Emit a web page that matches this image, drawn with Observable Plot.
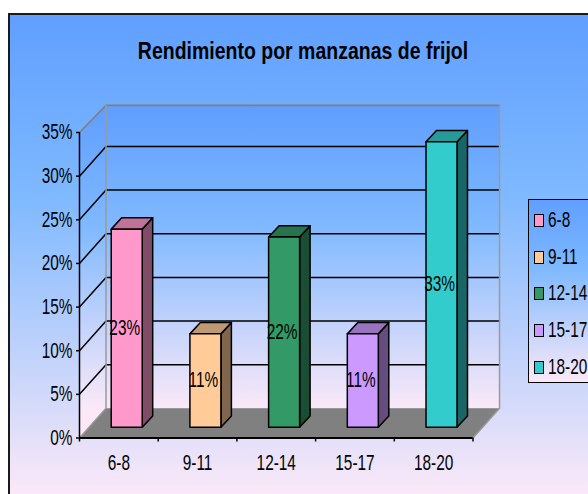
<!DOCTYPE html>
<html>
<head>
<meta charset="utf-8">
<script src="https://cdn.jsdelivr.net/npm/d3@7"></script>
<script src="https://cdn.jsdelivr.net/npm/@observablehq/plot@0.6"></script>
<style>
  html, body { margin: 0; padding: 0; background: #fff; overflow: hidden; width: 588px; height: 494px; }
  body { position: relative; font-family: "Liberation Sans", Arial, sans-serif; color: #000; }
  .panel { position: absolute; left: 8px; top: 13px; width: 600px; height: 482px; box-sizing: border-box;
    border-left: 2px solid #1a1a1a; border-top: 2px solid #1a1a1a;
    background: linear-gradient(#609fff 0%, #7fb9ff 38%, #fbe9f8 100%); }
  #title { position: absolute; left: 0; width: 606px; top: 38px; text-align: center; font-weight: bold; font-size: 24px; line-height: 26px; white-space: nowrap; transform: scaleX(0.812); transform-origin: 303px 0; }
  #chart { position: absolute; left: 0; top: 0; }
  #chart svg { display: block; background: transparent; }
  #legend { position: absolute; left: 528px; top: 199px; width: 90px; height: 184px; box-sizing: border-box;
    border: 1.5px solid #000; background: linear-gradient(#609fff 0%, #7fb9ff 38%, #fbe9f8 100%); }
  .item { position: absolute; left: 5px; font-size: 21.5px; line-height: 20px; height: 20px; white-space: nowrap; }
  .swatch { position: absolute; left: 0; top: 3px; width: 8px; height: 11px; border: 1.5px solid #000; }
  .item span { position: absolute; left: 14px; top: -1px; transform: scaleX(0.715); transform-origin: 0 0; }
</style>
</head>
<body>
<div class="panel"></div>
<div id="title"></div>
<div id="chart"></div>
<div id="legend"></div>
<script>
const chartTitle = "Rendimiento por manzanas de frijol";
const categories = ["6-8", "9-11", "12-14", "15-17", "18-20"];
const barHeights = [22.7, 10.7, 21.8, 10.7, 32.7];
const barLabels = ["23%", "11%", "22%", "11%", "33%"];
const frontColors = ["#ff99cc", "#ffcc99", "#339966", "#cc99ff", "#33cccc"];
const sideColors = ["#804d66", "#80664d", "#1a4d33", "#664d80", "#1a6666"];
const topColors = ["#bf7399", "#bf9973", "#26734d", "#9973bf", "#269999"];
const yTicks = [0, 5, 10, 15, 20, 25, 30, 35];
const gridValues = [5, 10, 15, 20, 25, 30];

// Oblique projection, in scale units
const wallDX = 0.337, wallDY = 3.4, wallTop = 38.1;
const barInset = 0.403, barWidth = 0.394, barBase = 1.23, barDX = 0.133, barDY = 1.3;

const pts = (arr) => arr.map(([x, y]) => ({x, y}));
const poly = (arr, o) => Plot.line(pts(arr), {x: "x", y: "y", ...o});

const defs = () => {
  const s = d3.create("svg:defs");
  const g = s.append("linearGradient").attr("id", "wall").attr("gradientUnits", "userSpaceOnUse")
    .attr("x1", 0).attr("x2", 0).attr("y1", 105).attr("y2", 408);
  g.append("stop").attr("offset", "0").attr("stop-color", "#5f9eff");
  g.append("stop").attr("offset", "0.4").attr("stop-color", "#80b9ff");
  g.append("stop").attr("offset", "1").attr("stop-color", "#fbe9f8");
  return s.node();
};

const n = categories.length;
const wallMarks = [
  poly([[0, 0], [wallDX, wallDY], [wallDX, wallTop], [0, 35], [0, 0]], {fill: "url(#wall)", stroke: "none"}),
  poly([[wallDX, wallDY], [n + wallDX, wallDY], [n + wallDX, wallTop], [wallDX, wallTop], [wallDX, wallDY]], {fill: "url(#wall)", stroke: "none"}),
  poly([[0, 0], [wallDX, wallDY], [n + wallDX, wallDY], [n, 0], [0, 0]], {fill: "#808080", stroke: "none"}),
  ...gridValues.map(v => poly([[0, v], [wallDX, v + wallDY], [n + wallDX, v + wallDY]], {stroke: "#000", strokeWidth: 1.5})),
  poly([[0, 35], [wallDX, wallTop], [n + wallDX, wallTop]], {stroke: "#808080", strokeWidth: 1.7}),
  poly([[n + wallDX, wallTop], [n + wallDX, wallDY], [n, 0]], {stroke: "#9a9a9a", strokeWidth: 1.5}),
  poly([[wallDX, wallTop], [wallDX, wallDY], [0, 0]], {stroke: "#9a9a9a", strokeWidth: 1.5})
];

const barMarks = categories.flatMap((c, i) => {
  const x0 = i + barInset, x1 = x0 + barWidth, y0 = barBase, y1 = barBase + barHeights[i];
  const edge = {stroke: "#000", strokeWidth: 1.5, strokeLinejoin: "round"};
  return [
    poly([[x1, y0], [x1 + barDX, y0 + barDY], [x1 + barDX, y1 + barDY], [x1, y1], [x1, y0]], {fill: sideColors[i], ...edge}),
    poly([[x0, y1], [x1, y1], [x1 + barDX, y1 + barDY], [x0 + barDX, y1 + barDY], [x0, y1]], {fill: topColors[i], ...edge}),
    poly([[x0, y0], [x1, y0], [x1, y1], [x0, y1], [x0, y0]], {fill: frontColors[i], ...edge})
  ];
});

const textFont = {fontFamily: "Liberation Sans, Arial, sans-serif", fontSize: 21.5};

const plot = Plot.plot({
  width: 588,
  height: 494,
  marginLeft: 79,
  marginRight: 115.5,
  marginTop: 132,
  marginBottom: 56.5,
  style: {background: "transparent", overflow: "visible"},
  x: {domain: [0, n]},
  y: {domain: [0, 35]},
  marks: [
    defs,
    ...wallMarks,
    ...barMarks,
    Plot.ruleX([0], {y1: 0, y2: 35, stroke: "#000", strokeWidth: 1.5}),
    Plot.ruleY([0], {x1: 0, x2: n, stroke: "#000", strokeWidth: 2}),
    Plot.axisY({ticks: yTicks, tickFormat: d => d + "%", tickSize: 3, tickPadding: 4, stroke: "#000", strokeWidth: 1.5, fill: "#000", label: null, ...textFont}),
    Plot.axisX({ticks: d3.range(n + 1), tickFormat: () => "", tickSize: 4, stroke: "#000", strokeWidth: 1.5, label: null}),
    Plot.axisX({ticks: categories.map((c, i) => i + 0.5), tickFormat: d => categories[d - 0.5], tickSize: 0, tickPadding: 17, fill: "#000", label: null, ...textFont}),
    Plot.text(categories, {
      x: (c, i) => i + barInset + barWidth / 2,
      y: (c, i) => barBase + barHeights[i] / 2,
      text: (c, i) => barLabels[i],
      dx: -2,
      fill: "#000",
      ...textFont
    })
  ]
});
document.getElementById("chart").appendChild(plot);
document.getElementById("title").textContent = chartTitle;

// The reference type is condensed: narrow each label without changing its height
plot.querySelectorAll("text").forEach(t => {
  if (!t.textContent) return;
  t.setAttribute("textLength", t.getComputedTextLength() * 0.715);
  t.setAttribute("lengthAdjust", "spacingAndGlyphs");
});

const legend = d3.select("#legend");
categories.forEach((c, i) => {
  const item = legend.append("div").attr("class", "item").style("top", (11 + i * 36.7) + "px");
  item.append("div").attr("class", "swatch").style("background", frontColors[i]);
  item.append("span").text(c);
});
</script>
</body>
</html>
